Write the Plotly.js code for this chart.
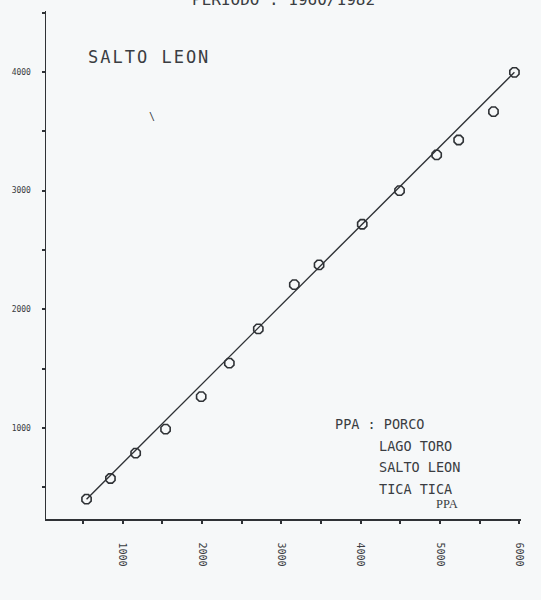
<!DOCTYPE html>
<html>
<head>
<meta charset="utf-8">
<script src="https://cdn.plot.ly/plotly-3.0.1.min.js"></script>
<style>html,body{margin:0;padding:0;background:#f6f8f9;}#chart{width:541px;height:600px;}</style>
</head>
<body>
<div id="chart"></div>
<script>
// Observed points (x: PPA cumulative, y: SALTO LEON cumulative)
const ppaCum = [544, 845, 1163, 1540, 1989, 2344, 2709, 3163, 3475, 4019, 4489, 4957, 5234, 5673, 5937];
const stationCum = [400, 574, 788, 990, 1264, 1546, 1835, 2208, 2374, 2717, 3000, 3301, 3427, 3666, 3997];
// Fitted straight line end points
const lineX = [544, 5937];
const lineY = [400, 3997];
// Tick values and labels
const xTickVals = [0, 500, 1000, 1500, 2000, 2500, 3000, 3500, 4000, 4500, 5000, 5500, 6000];
const xTickText = ['', '', '1000', '', '2000', '', '3000', '', '4000', '', '5000', '', '6000'];
const yTickVals = [500, 1000, 1500, 2000, 2500, 3000, 3500, 4000, 4500];
const yTickText = ['', '1000', '', '2000', '', '3000', '', '4000', ''];

const ink = '#2f3236';
const txt = '#3a3d42';
const mono = '"DejaVu Sans Mono", "Liberation Mono", monospace';

const traces = [
  {x: lineX, y: lineY, mode: 'lines', line: {color: ink, width: 1.4}, hoverinfo: 'skip', showlegend: false},
  {x: ppaCum, y: stationCum, mode: 'markers',
   marker: {symbol: 'octagon-open', size: 10, color: ink, line: {width: 1.6, color: ink}}, showlegend: false}
];

function ann(text, x, y, size, anchor, family) {
  return {text: text, xref: 'paper', yref: 'paper', x: x, y: y, xanchor: anchor || 'left', yanchor: 'middle',
          showarrow: false, font: {family: family || mono, size: size, color: txt}};
}

const layout = {
  width: 541, height: 600,
  margin: {l: 46, r: 20, t: 11, b: 81},
  paper_bgcolor: '#f6f8f9', plot_bgcolor: '#f6f8f9',
  showlegend: false,
  xaxis: {
    range: [33, 6020], tickmode: 'array', tickvals: xTickVals, ticktext: xTickText,
    showgrid: false, zeroline: false, showline: true, linecolor: ink, linewidth: 1.5,
    ticks: 'outside', ticklen: 3, tickwidth: 2, tickcolor: ink,
    tickangle: 90, ticklabelstandoff: 17,
    tickfont: {family: mono, size: 10, color: txt}
  },
  yaxis: {
    range: [233, 4514], tickmode: 'array', tickvals: yTickVals, ticktext: yTickText,
    showgrid: false, zeroline: false, showline: true, linecolor: ink, linewidth: 1.5,
    ticks: 'outside', ticklen: 3, tickwidth: 2, tickcolor: ink,
    ticklabelstandoff: 9,
    tickfont: {family: mono, size: 8, color: txt}
  },
  annotations: [
    ann('PERIODO : 1960/1982', 0.499, 1.0217, 16, 'center'),
    ann('SALTO LEON', 0.1052, 0.909, 17, 'left'),
    ann('PPA : PORCO', 0.604, 0.187, 13.5, 'left'),
    ann('LAGO TORO', 0.697, 0.1437, 13.5, 'left'),
    ann('SALTO LEON', 0.697, 0.1024, 13.5, 'left'),
    ann('TICA TICA', 0.697, 0.059, 13.5, 'left'),
    ann('PPA', 0.844, 0.0295, 12.5, 'center', '"Liberation Serif", serif'),
    ann('\\', 0.223, 0.792, 10, 'center')
  ]
};

Plotly.newPlot('chart', traces, layout, {displayModeBar: false, staticPlot: true}).then(function () {
  const t = document.querySelectorAll('.annotation-text');
  if (t[1]) t[1].style.letterSpacing = '2px';
});
</script>
</body>
</html>
